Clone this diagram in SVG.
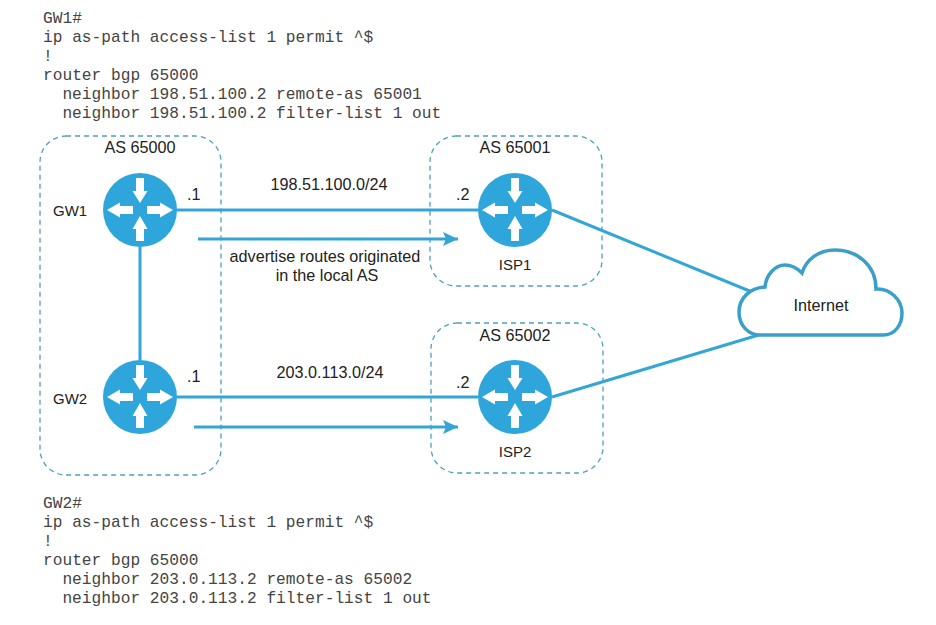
<svg xmlns="http://www.w3.org/2000/svg" width="936" height="625" viewBox="0 0 936 625">
<style>
.t{font-family:"Liberation Sans",Arial,sans-serif;font-size:16.2px;fill:#222}
.s{font-size:15px}
.m{font-family:"Liberation Mono","Courier New",monospace;font-size:16.2px;fill:#444}
.c{fill:none;stroke:#34a6d6;stroke-width:3}
.z{fill:none;stroke:#4d9fc0;stroke-width:1.3;stroke-dasharray:5 4}
.e{text-anchor:middle}
</style>
<defs>
<marker id="a" markerUnits="userSpaceOnUse" markerWidth="16" markerHeight="14" refX="15" refY="7" orient="auto"><path d="M0 0L15 7L0 14L3 7Z" fill="#34a6d6"/></marker>
<g id="r"><circle r="37" fill="#2ea6dc"/><g fill="#fff">
<path d="M-4 -32H4V-19H7.5L0 -7L-7.5 -19H-4Z"/>
<path d="M-4 31V19H-7.5L0 6L7.5 19H4V31Z"/>
<path d="M-33 0L-20 -7.5V-4H-7V4H-20V7.5Z"/>
<path d="M33 0L20 -7.5V-4H7V4H20V7.5Z"/></g></g>
</defs>
<g id="config-gw1" class="m">
<text x="43" y="23">GW1#</text><text x="43" y="42">ip as-path access-list 1 permit ^$</text><text x="43" y="61">!</text><text x="43" y="80">router bgp 65000</text><text x="62.4" y="99">neighbor 198.51.100.2 remote-as 65001</text><text x="62.4" y="118">neighbor 198.51.100.2 filter-list 1 out</text>
</g>
<g id="config-gw2" class="m">
<text x="43" y="508">GW2#</text><text x="43" y="527">ip as-path access-list 1 permit ^$</text><text x="43" y="546">!</text><text x="43" y="565">router bgp 65000</text><text x="62.4" y="584">neighbor 203.0.113.2 remote-as 65002</text><text x="62.4" y="603">neighbor 203.0.113.2 filter-list 1 out</text>
</g>
<g id="zones">
<rect id="as65000" class="z" x="40" y="136" width="181" height="339" rx="26"/>
<rect id="as65001" class="z" x="430" y="136" width="172" height="150" rx="26"/>
<rect id="as65002" class="z" x="431" y="323" width="172" height="150" rx="26"/>
</g>
<g id="connectors">
<path class="c" d="M177 210H478M140 247V360M177 397H478M552 210L752 292M552 397L762 334"/>
<path class="c" d="M198 239H458" marker-end="url(#a)"/>
<path class="c" d="M194 427H458" marker-end="url(#a)"/>
</g>
<g id="cloud"><path d="M760 335H883C895 335 902 325 902 313C902 300 890 288 876 289C876 265 857 250 835 250C818 250 806 260 802 273C795 266 790 265 785 265C775 265 766 275 765 287C750 288 739 298 739 312C739 325 748 335 760 335Z" fill="#fff" stroke="#3a9fc9" stroke-width="3.5"/><text class="t e" x="821" y="311">Internet</text></g>
<g id="gw1"><use href="#r" x="140" y="210"/><text class="t s" x="53" y="216">GW1</text></g>
<g id="gw2"><use href="#r" x="140" y="397"/><text class="t s" x="53" y="404">GW2</text></g>
<g id="isp1"><use href="#r" x="515" y="210"/><text class="t s e" x="515" y="270">ISP1</text></g>
<g id="isp2"><use href="#r" x="515" y="397"/><text class="t s e" x="515" y="457">ISP2</text></g>
<g id="labels">
<text class="t e" x="140" y="153">AS 65000</text>
<text class="t e" x="515" y="153">AS 65001</text>
<text class="t e" x="515" y="341">AS 65002</text>
<text class="t" x="187" y="200">.1</text><text class="t" x="187" y="382">.1</text><text class="t" x="456" y="200">.2</text><text class="t" x="456" y="388">.2</text>
<text class="t e" x="329" y="190">198.51.100.0/24</text>
<text class="t e" x="330" y="378">203.0.113.0/24</text>
<text class="t e" x="325" y="262">advertise routes originated</text>
<text class="t e" x="327" y="281">in the local AS</text>
</g>
</svg>
